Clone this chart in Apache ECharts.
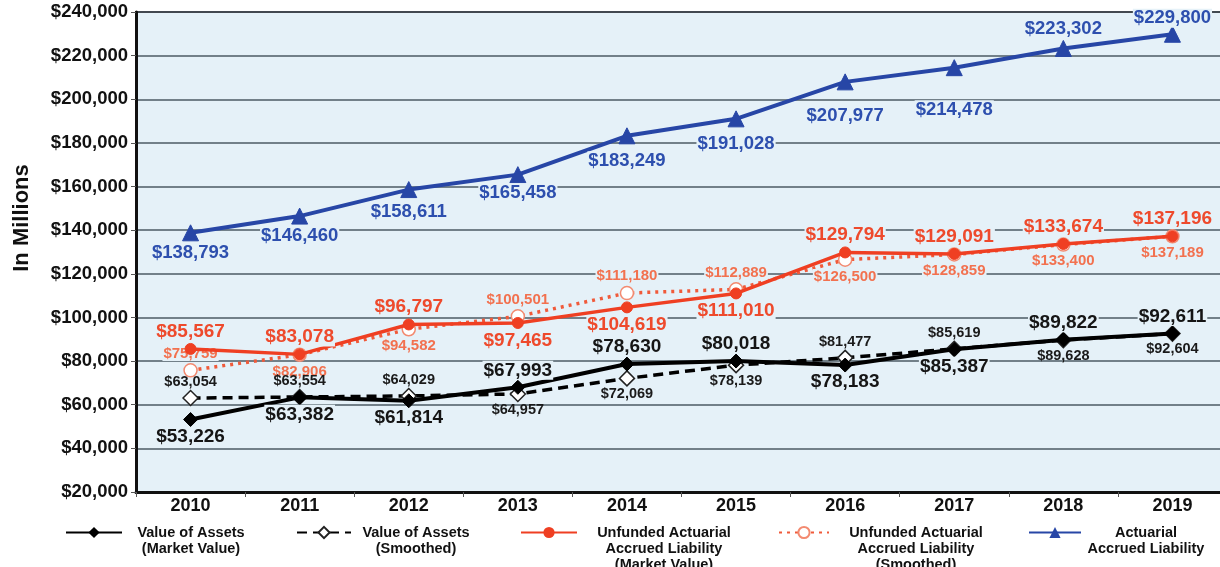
<!DOCTYPE html>
<html>
<head>
<meta charset="utf-8">
<script src="https://cdn.jsdelivr.net/npm/echarts@6/dist/echarts.min.js"></script>
<style>
  html, body { margin: 0; padding: 0; background: #ffffff; }
  #chart { width: 1220px; height: 567px; }
</style>
</head>
<body>
<div id="chart"></div>
<script>
// categories
const years = ["2010", "2011", "2012", "2013", "2014", "2015", "2016", "2017", "2018", "2019"];

// series values (in millions)
const assetsMarket = [53226, 63382, 61814, 67993, 78630, 80018, 78183, 85387, 89822, 92611];
const assetsSmoothed = [63054, 63554, 64029, 64957, 72069, 78139, 81477, 85619, 89628, 92604];
const uaalMarket = [85567, 83078, 96797, 97465, 104619, 111010, 129794, 129091, 133674, 137196];
const uaalSmoothed = [75759, 82906, 94582, 100501, 111180, 112889, 126500, 128859, 133400, 137189];
const accruedLiability = [138793, 146460, 158611, 165458, 183249, 191028, 207977, 214478, 223302, 229800];

// where each value label sits relative to its point
const assetsMarketPos = ["bottom", "bottom", "bottom", "top", "top", "top", "bottom", "bottom", "top", "top"];
const assetsSmoothedPos = ["top", "top", "top", "bottom", "bottom", "bottom", "top", "top", "bottom", "bottom"];
const uaalMarketPos = ["top", "top", "top", "bottom", "bottom", "bottom", "top", "top", "top", "top"];
const uaalSmoothedPos = ["top", "bottom", "bottom", "top", "top", "top", "bottom", "bottom", "bottom", "bottom"];
const liabilityPos = ["bottom", "bottom", "bottom", "bottom", "bottom", "bottom", "bottom", "bottom", "top", "top"];
// extra downward nudge (px) of the blue labels, some sit lower in the original
const liabilityNudge = [0, 0, 2, -2, 5, 5, 14, 22, 0, 4];

const names = [
  "Value of Assets\n(Market Value)",
  "Value of Assets\n(Smoothed)",
  "Unfunded Actuarial\nAccrued Liability\n(Market Value)",
  "Unfunded Actuarial\nAccrued Liability\n(Smoothed)",
  "Actuarial\nAccrued Liability"
];

const plotBg = "#e5f1f8";
const fontFamily = "Liberation Sans, Arial, sans-serif";

const money = v => "$" + v.toLocaleString("en-US");

// build data items with per-point label placement
const withLabels = (values, positions, nudge) =>
  values.map((v, i) => ({
    value: v,
    label: { position: positions[i], offset: [0, nudge ? nudge[i] : 0] }
  }));

// labels knock out the gridlines behind them, like the original
const makeLabel = (color, size, distance, knockout = true) => ({
  show: true,
  color: color,
  fontSize: size,
  fontWeight: "bold",
  fontFamily: fontFamily,
  distance: distance,
  backgroundColor: knockout ? plotBg : "transparent",
  padding: [0, 1],
  formatter: p => money(p.value)
});

// legend, one per entry so they can sit where the original puts them
const legendAt = (name, left, iconWidth, textWidth) => {
  const lines = name.split("\n");
  return {
    data: [name],
    left: left,
    top: 520,
    itemWidth: iconWidth,
    itemHeight: 14,
    formatter: n => n.split("\n").map(s => "{t|" + s + "}").join("\n"),
    textStyle: {
      padding: [(lines.length - 1) * 16, 0, 0, 0],
      rich: {
        t: {
          width: textWidth,
          align: "center",
          fontSize: 14.5,
          fontWeight: "bold",
          fontFamily: fontFamily,
          color: "#111",
          lineHeight: 16
        }
      }
    }
  };
};

const chart = echarts.init(document.getElementById("chart"));

chart.setOption({
  animation: false,
  textStyle: { fontFamily: fontFamily },
  grid: {
    left: 136,
    right: -7,
    top: 12,
    bottom: 75,
    outerBoundsMode: "none",
    show: true,
    backgroundColor: plotBg,
    borderColor: "#2a1a14",
    borderWidth: 2
  },
  legend: [
    legendAt(names[0], 60, 56, 128),
    legendAt(names[1], 291, 54, 120),
    legendAt(names[2], 515, 56, 164),
    legendAt(names[3], 773, 50, 164),
    legendAt(names[4], 1023, 52, 120)
  ],
  xAxis: {
    type: "category",
    data: years,
    boundaryGap: true,
    axisLine: { lineStyle: { color: "#111", width: 3 } },
    axisTick: { show: true, length: 5, lineStyle: { color: "#555", width: 1 } },
    axisLabel: {
      color: "#111",
      fontSize: 18,
      fontWeight: "bold",
      margin: 5
    },
    splitLine: { show: false }
  },
  yAxis: {
    type: "value",
    min: 20000,
    max: 240000,
    interval: 20000,
    name: "In Millions",
    nameLocation: "middle",
    nameGap: 103,
    nameRotate: 90,
    nameTextStyle: {
      color: "#111",
      fontSize: 22,
      fontWeight: "bold",
      padding: [0, 0, 0, 68]
    },
    axisLine: { show: true, lineStyle: { color: "#111", width: 3 } },
    axisTick: { show: true, length: 5, lineStyle: { color: "#555" } },
    axisLabel: {
      color: "#111",
      fontSize: 18.5,
      fontWeight: "bold",
      margin: 8,
      formatter: v => money(v)
    },
    splitLine: { show: true, lineStyle: { color: "#4b5a64", width: 1.5 } }
  },
  series: [
    {
      name: names[0],
      type: "line",
      data: withLabels(assetsMarket, assetsMarketPos),
      z: 5,
      symbol: "diamond",
      symbolSize: 14,
      lineStyle: { color: "#000", width: 4 },
      itemStyle: { color: "#000", borderColor: "#000" },
      label: makeLabel("#151515", 19, 0)
    },
    {
      name: names[1],
      type: "line",
      data: withLabels(assetsSmoothed, assetsSmoothedPos),
      z: 4,
      symbol: "diamond",
      symbolSize: 15,
      lineStyle: { color: "#000", width: 3.5, type: [10, 6] },
      itemStyle: { color: "#ffffff", borderColor: "#222", borderWidth: 1.5 },
      label: makeLabel("#1a1a1a", 14.5, 0, false)
    },
    {
      name: names[2],
      type: "line",
      data: withLabels(uaalMarket, uaalMarketPos),
      z: 5,
      symbol: "circle",
      symbolSize: 11,
      lineStyle: { color: "#ef3f22", width: 3.5 },
      itemStyle: { color: "#ef3f22", borderColor: "#ef3f22" },
      label: makeLabel("#ee4a2c", 19, 2)
    },
    {
      name: names[3],
      type: "line",
      data: withLabels(uaalSmoothed, uaalSmoothedPos),
      z: 3,
      symbol: "circle",
      symbolSize: 13,
      lineStyle: { color: "#f05a3a", width: 3.5, type: [3, 5] },
      itemStyle: { color: "#ffffff", borderColor: "#f38a70", borderWidth: 1.5 },
      label: makeLabel("#f2714f", 15, 2)
    },
    {
      name: names[4],
      type: "line",
      data: withLabels(accruedLiability, liabilityPos, liabilityNudge),
      z: 5,
      symbol: "triangle",
      symbolSize: 16,
      lineStyle: { color: "#2746a6", width: 4 },
      itemStyle: { color: "#2746a6", borderColor: "#2746a6" },
      label: makeLabel("#2d4fae", 18.5, 2)
    }
  ]
});
</script>
</body>
</html>
